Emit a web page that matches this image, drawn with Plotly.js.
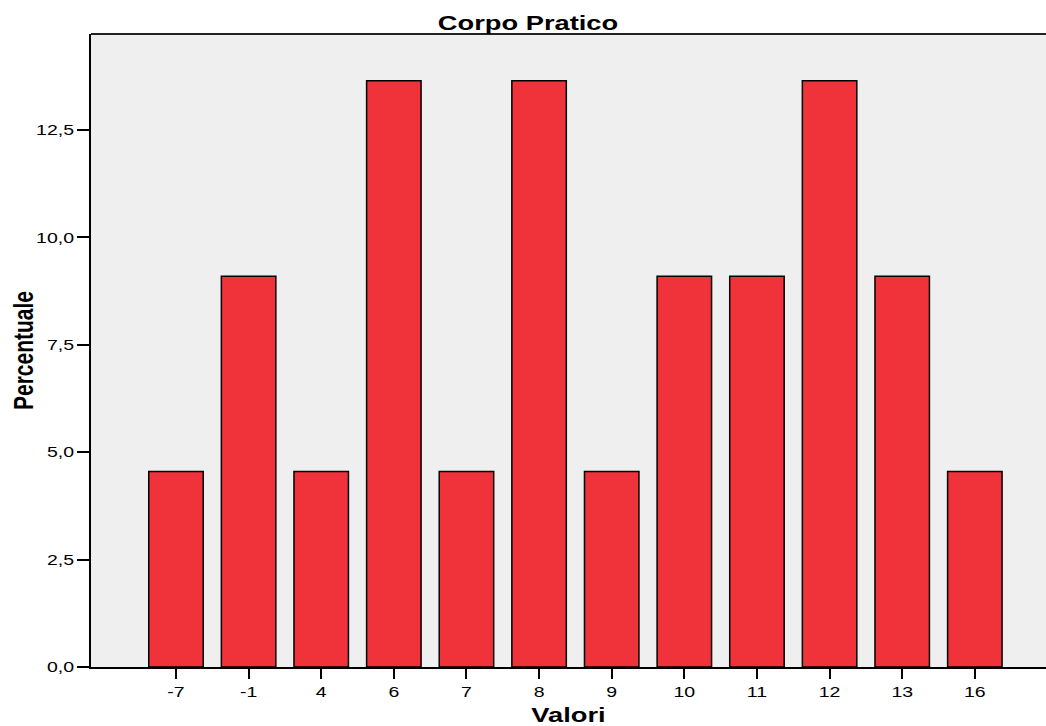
<!DOCTYPE html>
<html><head><meta charset="utf-8">
<script src="https://cdn.plot.ly/plotly-3.0.1.min.js"></script>
<style>html,body{margin:0;padding:0;background:#fff}#chart{width:1046px;height:726px}</style>
</head><body><div id="chart"></div>
<script>
const categories = ["-7","-1","4","6","7","8","9","10","11","12","13","16"];
const percentuale = [4.55,9.09,4.55,13.64,4.55,13.64,4.55,9.09,9.09,13.64,9.09,4.55];
const yTicks = [0,2.5,5,7.5,10,12.5];

const trace = {
  type: 'bar', x: categories, y: percentuale, width: 0.75,
  marker: {color: '#F0323A', line: {color: '#000', width: 1.5}},
  hoverinfo: 'x+y'
};
const font = {family: 'Liberation Sans, Arial, sans-serif', color: '#000'};
const layout = {
  width: 1046, height: 726,
  margin: {l: 91, r: 0, t: 34, b: 59, pad: 0},
  paper_bgcolor: '#fff', plot_bgcolor: '#EFEFEF',
  separators: ',.',
  font: Object.assign({size: 15}, font),
  title: {text: '<b>Corpo Pratico</b>', font: Object.assign({size: 21}, font), xref: 'container', x: 0.5048, xanchor: 'center', yref: 'container', y: 0.969, yanchor: 'middle'},
  xaxis: {type: 'category', range: [-1.17, 11.98], showgrid: false, zeroline: false,
    showline: true, linecolor: '#000', linewidth: 2, mirror: false,
    ticks: 'outside', ticklen: 10, tickwidth: 2, tickcolor: '#000',
    tickfont: Object.assign({size: 15}, font),
    title: {text: '<b>Valori</b>', font: Object.assign({size: 21}, font), standoff: 11}},
  yaxis: {range: [0, 14.73], tickvals: yTicks, tickformat: '.1f', showgrid: false, zeroline: false,
    showline: true, linecolor: '#000', linewidth: 2,
    ticks: 'outside', ticklen: 12, tickwidth: 2, tickcolor: '#000',
    tickfont: Object.assign({size: 15}, font),
    title: {text: '<b>Percentuale</b>', font: Object.assign({size: 21}, font), standoff: 5}},
  shapes: [{type: 'line', xref: 'paper', yref: 'paper', x0: 0, x1: 1, y0: 1, y1: 1, line: {color: '#222', width: 2}}],
  showlegend: false
};

function stretch(sel, s, vertical) {
  document.querySelectorAll(sel).forEach(t => {
    const x = parseFloat(t.getAttribute('x')) || 0, y = parseFloat(t.getAttribute('y')) || 0;
    const tr = t.getAttribute('transform') || '';
    t.setAttribute('transform', tr + (vertical
      ? ` translate(0,${y}) scale(1,${s}) translate(0,${-y})`
      : ` translate(${x},0) scale(${s},1) translate(${-x},0)`));
  });
}
Plotly.newPlot('chart', [trace], layout, {displayModeBar: false, staticPlot: true}).then(() => {
  const s = 1.3;
  stretch('#chart .xtick text', s, false);
  stretch('#chart .ytick text', s, false);
  stretch('#chart .gtitle', s, false);
  stretch('#chart .xtitle', s, false);
  stretch('#chart .ytitle', s, true);
});
</script></body></html>
